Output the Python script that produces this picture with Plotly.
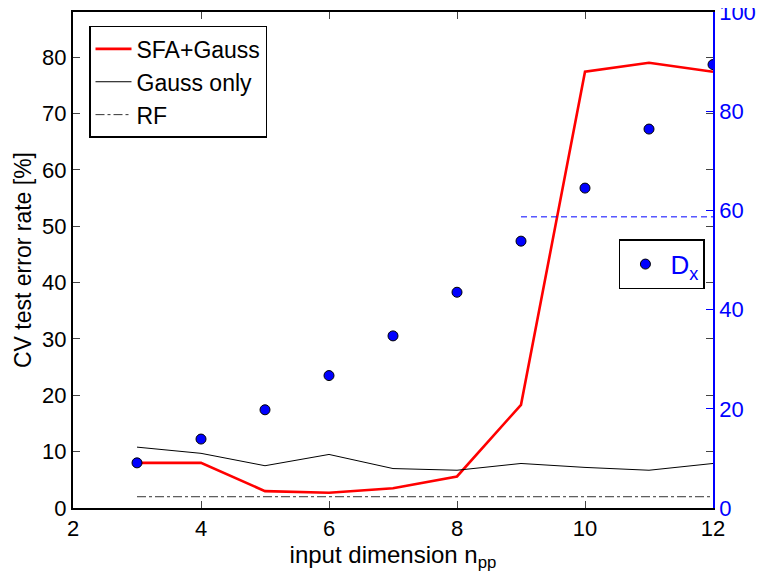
import plotly.graph_objects as go

n_pp = [3, 4, 5, 6, 7, 8, 9, 10, 11, 12]
sfa_gauss = [8.0, 8.0, 3.0, 2.7, 3.5, 5.6, 18.3, 77.4, 79.0, 77.4]
gauss_only = [10.8, 9.7, 7.5, 9.5, 7.0, 6.7, 7.9, 7.2, 6.7, 7.9]
rf = [2.0] * 10
dx = [9.1, 13.9, 19.8, 26.7, 34.7, 43.5, 53.8, 64.5, 76.4, 89.4]
dx_thr_x = [9, 12]
dx_thr = [58.7, 58.7]

FONT = "Liberation Sans, Arial, Helvetica, sans-serif"
BLUE = "#0000ff"

fig = go.Figure()
fig.add_trace(go.Scatter(x=n_pp, y=sfa_gauss, mode="lines", name="SFA+Gauss",
                         line=dict(color="#ff0000", width=2.6), legend="legend"))
fig.add_trace(go.Scatter(x=n_pp, y=gauss_only, mode="lines", name="Gauss only",
                         line=dict(color="black", width=1), legend="legend"))
fig.add_trace(go.Scatter(x=n_pp, y=rf, mode="lines", name="RF",
                         line=dict(color="#333333", width=1, dash="dashdot"), legend="legend"))
fig.add_trace(go.Scatter(x=dx_thr_x, y=dx_thr, mode="lines", showlegend=False,
                         line=dict(color=BLUE, width=1, dash="6px,4px"), yaxis="y2"))
fig.add_trace(go.Scatter(x=n_pp, y=dx, mode="markers", name="D<sub>x</sub>",
                         marker=dict(color=BLUE, size=10, line=dict(color="black", width=1)),
                         yaxis="y2", legend="legend2"))

fig.update_layout(
    width=757, height=567,
    margin=dict(l=65, r=52, t=4, b=67),
    plot_bgcolor="white", paper_bgcolor="white",
    font=dict(family=FONT, size=22, color="black"),
    xaxis=dict(range=[2, 12], tickvals=[2, 4, 6, 8, 10, 12], ticks="inside", ticklen=7,
               showline=True, linecolor="black", linewidth=2, mirror="ticks",
               showgrid=False, zeroline=False, automargin=False, ticklabeloverflow="allow",
               title=dict(text="input dimension n<sub>pp</sub>", standoff=0, font=dict(size=24))),
    yaxis=dict(range=[0, 88], tickvals=list(range(0, 90, 10)), ticks="inside", ticklen=7,
               showline=True, linecolor="black", linewidth=2, mirror="ticks",
               showgrid=False, zeroline=False, automargin=False, ticklabeloverflow="allow",
               title=dict(text="CV test error rate [%]", standoff=4, font=dict(size=23))),
    yaxis2=dict(range=[0, 100], tickvals=[0, 20, 40, 60, 80, 100], overlaying="y", side="right",
                ticks="inside", ticklen=7, showline=True, linecolor=BLUE, linewidth=1.5,
                tickcolor=BLUE, tickfont=dict(color=BLUE, size=22), showgrid=False, zeroline=False,
                automargin=False, ticklabeloverflow="allow"),
    legend=dict(x=0.025, y=0.972, xanchor="left", yanchor="top", bgcolor="white",
                bordercolor="black", borderwidth=1.5, font=dict(size=23),
                tracegroupgap=0, itemwidth=36),
    legend2=dict(x=0.853, y=0.542, xanchor="left", yanchor="top", bgcolor="white",
                 bordercolor="black", borderwidth=1.5, font=dict(size=26, color=BLUE),
                 itemwidth=40),
)

fig.write_html("out.html")
